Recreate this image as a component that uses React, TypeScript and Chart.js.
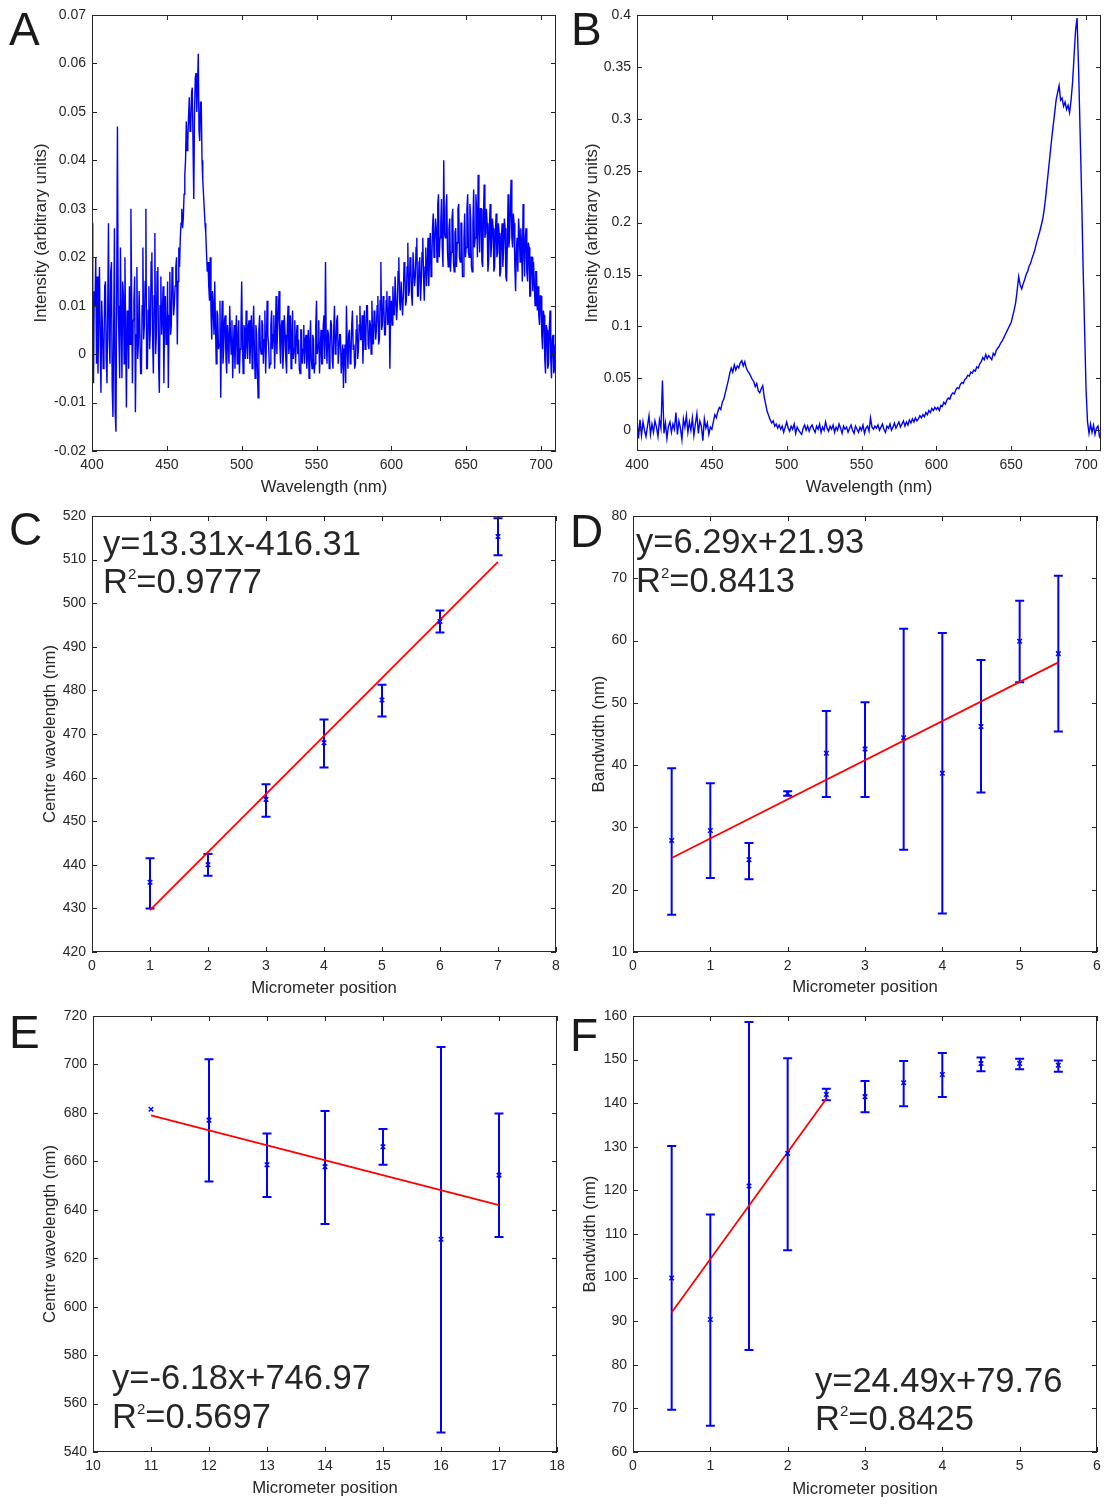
import React, { useEffect, useRef } from "react";
import { Chart, registerables } from "chart.js";

Chart.register(...registerables);

const FONT = '"Liberation Sans", Arial, Helvetica, sans-serif';
const INK = "#262626";
const BLUE = "#0000ff";
const RED = "#ff0000";

// ---------- Panel A: spectrum sampled every 0.5 nm from 400 nm ----------
const spectrumStartA = 400;
const spectrumStepA = 0.5;
const spectrumA = [
  0.027, 0.004, -0.006, 0.013, 0.01, 0.02, -0.002, 0.016, -0.004, 0.008,
  0.018, 0.002, -0.008, 0.011, 0.005, -0.003, 0.001, 0.014, 0.015, -0.001,
  -0.006, 0.009, 0.027, 0.003, -0.002, 0.017, 0.019, -0.007, -0.013, 0.006,
  0.026, -0.012, -0.016, 0.013, 0.047, 0.01, 0.003, -0.005, 0.022, 0.008,
  -0.005, 0.015, 0.012, -0.002, 0.02, 0.004, -0.011, 0.009, 0.008, -0.003,
  0.014, 0.002, 0.03, 0.011, -0.006, 0.007, 0.011, 0.016, -0.012, 0.004,
  0.018, -0.001, 0.002, 0.013, 0.013, -0.004, -0.004, 0.01, 0.022, 0.003,
  0.006, 0.015, 0.03, -0.003, -0.003, 0.009, 0.014, 0.001, 0.005, 0.019,
  0.021, 0.003, -0.004, 0.012, 0.025, 0.0, 0.004, 0.017, 0.018, -0.002,
  -0.008, 0.01, 0.016, 0.004, 0.008, 0.014, -0.006, 0.007, 0.012, 0.002,
  0.003, 0.015, -0.007, 0.008, 0.017, 0.004, 0.006, 0.018, 0.016, 0.008,
  0.01, 0.014, 0.018, 0.02, 0.002, 0.015, 0.022, 0.018, 0.024, 0.027,
  0.03, 0.026, 0.028, 0.033, 0.037, 0.04, 0.048, 0.042, 0.044, 0.049,
  0.053, 0.046, 0.047, 0.054, 0.055, 0.043, 0.032, 0.05, 0.057, 0.058,
  0.05, 0.055, 0.062, 0.046, 0.044, 0.052, 0.052, 0.04, 0.036, 0.033,
  0.03, 0.027, 0.025, 0.021, 0.017, 0.019, 0.014, 0.011, 0.02, 0.009,
  0.003, 0.013, 0.01, 0.004, 0.015, 0.006, -0.002, 0.009, 0.008, 0.001,
  0.002, 0.011, -0.009, 0.004, 0.011, -0.002, 0.001, 0.007, 0.008, -0.001,
  -0.004, 0.006, 0.003, -0.002, 0.01, 0.004, 0.0, 0.007, -0.005, 0.002,
  0.006, -0.003, 0.004, 0.008, -0.002, 0.003, 0.007, -0.004, 0.001, 0.005,
  0.015, 0.002, -0.004, 0.006, 0.005, -0.001, 0.009, 0.002, -0.001, 0.006,
  0.007, -0.002, 0.003, 0.008, -0.003, 0.004, 0.01, 0.001, -0.005, 0.006,
  0.004, -0.003, -0.009, 0.005, 0.008, 0.001, 0.0, 0.007, 0.006, -0.002,
  0.003, 0.009, -0.004, 0.002, 0.011, 0.004, 0.002, -0.003, -0.002, 0.006,
  0.009, 0.001, 0.004, 0.008, -0.003, 0.003, 0.012, 0.0, 0.005, 0.009,
  0.013, 0.002, -0.002, 0.006, 0.007, -0.003, 0.001, 0.008, 0.004, -0.001,
  -0.004, 0.006, 0.01, 0.0, 0.002, 0.008, -0.003, 0.004, 0.009, -0.001,
  0.001, 0.007, -0.002, 0.003, 0.006, 0.0, 0.003, -0.003, -0.004, 0.005,
  0.005, -0.002, 0.001, 0.006, -0.002, 0.003, 0.004, -0.003, 0.0, 0.005,
  -0.005, 0.002, 0.007, -0.001, -0.003, 0.004, 0.003, -0.004, -0.002, 0.006,
  0.011, 0.0, 0.002, 0.007, -0.004, 0.001, 0.005, -0.002, -0.002, 0.006,
  0.008, -0.001, 0.019, 0.003, -0.002, 0.005, 0.004, -0.003, 0.001, 0.007,
  0.006, -0.001, -0.003, 0.005, 0.01, 0.0, 0.001, 0.007, 0.008, -0.002,
  -0.002, 0.004, 0.004, -0.004, -0.004, 0.002, -0.007, 0.001, 0.002, -0.006,
  0.01, 0.002, -0.003, 0.004, 0.005, -0.002, -0.001, 0.006, 0.009, 0.001,
  0.002, -0.003, -0.002, 0.005, 0.008, -0.001, 0.001, 0.006, 0.01, 0.003,
  0.003, 0.008, -0.002, 0.004, 0.009, 0.001, 0.004, 0.01, 0.01, 0.002,
  0.001, 0.007, 0.006, 0.0, 0.011, 0.004, 0.002, 0.009, 0.008, 0.003,
  0.005, 0.01, 0.012, 0.002, 0.003, 0.011, 0.019, 0.005, 0.006, 0.012,
  0.01, 0.004, 0.004, 0.011, 0.013, 0.006, 0.007, 0.012, -0.003, 0.008,
  0.011, 0.006, 0.014, 0.009, 0.008, 0.016, 0.016, 0.007, 0.01, 0.017,
  0.02, 0.011, 0.009, 0.015, 0.015, 0.008, 0.012, 0.019, 0.018, 0.01,
  0.011, 0.018, 0.023, 0.012, 0.013, 0.02, 0.019, 0.012, 0.01, 0.021,
  0.021, 0.014, 0.016, 0.022, 0.024, 0.012, 0.012, 0.019, 0.02, 0.011,
  0.015, 0.021, 0.024, 0.016, 0.011, 0.018, 0.022, 0.014, 0.018, 0.024,
  0.014, 0.02, 0.025, 0.016, 0.019, 0.026, 0.029, 0.02, 0.023, 0.028,
  0.026, 0.019, 0.031, 0.033, 0.02, 0.024, 0.027, 0.032, 0.022, 0.018,
  0.04, 0.025, 0.024, 0.03, 0.033, 0.021, 0.018, 0.026, 0.028, 0.017,
  0.021, 0.028, 0.03, 0.019, 0.017, 0.025, 0.026, 0.018, 0.023, 0.03,
  0.031, 0.02, 0.019, 0.027, 0.027, 0.016, 0.016, 0.024, 0.029, 0.02,
  0.022, 0.03, 0.033, 0.021, 0.02, 0.031, 0.028, 0.018, 0.017, 0.027,
  0.034, 0.022, 0.024, 0.033, 0.029, 0.02, 0.037, 0.026, 0.021, 0.03,
  0.03, 0.019, 0.018, 0.028, 0.035, 0.024, 0.025, 0.03, 0.027, 0.017,
  0.019, 0.026, 0.031, 0.02, 0.023, 0.028, 0.026, 0.017, 0.018, 0.025,
  0.029, 0.02, 0.021, 0.027, 0.025, 0.016, 0.017, 0.024, 0.027, 0.018,
  0.022, 0.028, 0.026, 0.016, 0.015, 0.023, 0.033, 0.022, 0.024, 0.03,
  0.036, 0.024, 0.022, 0.029, 0.027, 0.018, 0.013, 0.021, 0.024, 0.017,
  0.028, 0.025, 0.019, 0.026, 0.022, 0.015, 0.031, 0.022, 0.016, 0.024,
  0.026, 0.017, 0.015, 0.023, 0.022, 0.012, 0.012, 0.02, 0.02, 0.013,
  0.019, 0.015, 0.01, 0.017, 0.017, 0.009, 0.014, 0.008, 0.006, 0.012,
  0.012, 0.004, 0.001, 0.009, 0.008, -0.001, -0.004, 0.006, 0.005, -0.003,
  -0.002, 0.005, 0.009, -0.001, -0.005, 0.003, 0.004, -0.004, -0.003, 0.002,
  -0.004,
];

// ---------- Panel B: spectrum sampled every 1 nm from 400 nm ----------
const spectrumStartB = 400;
const spectrumStepB = 1;
const spectrumB = [
  0.012, -0.008, 0.01, -0.005, 0.008, 0.0, -0.006, 0.004, 0.014, -0.004,
  0.006, -0.002, 0.009, 0.003, -0.006, 0.01, 0.002, 0.048, -0.003, 0.007,
  -0.008, 0.004, 0.008, -0.002, 0.006, 0.001, 0.017, -0.004, 0.009, 0.002,
  -0.009, 0.011, 0.003, 0.014, -0.002, 0.008, 0.0, 0.012, -0.005, 0.006,
  0.016, -0.003, 0.009, 0.004, -0.01, 0.011, 0.002, 0.007, -0.004, 0.003,
  0.001, 0.008, 0.015, 0.012, 0.018, 0.022, 0.02, 0.027, 0.03, 0.036,
  0.042, 0.048, 0.055, 0.06, 0.056, 0.063, 0.058, 0.062, 0.06, 0.065,
  0.067, 0.062, 0.066, 0.06, 0.057, 0.055, 0.052, 0.049, 0.047, 0.042,
  0.045, 0.038, 0.036, 0.04, 0.043, 0.032, 0.025, 0.018, 0.014, 0.01,
  0.007, 0.009, 0.004, 0.006, 0.002, 0.005, 0.001, 0.004, -0.002, 0.003,
  0.008, 0.002, -0.001, 0.004, 0.001, 0.006, -0.003, 0.003, 0.0, -0.002,
  -0.004, 0.002, 0.005, 0.0, 0.004, -0.001, 0.003, 0.005, 0.001, -0.002,
  0.004, 0.001, 0.006, -0.002, 0.003, 0.0, 0.008, 0.002, -0.001, 0.004,
  0.001, 0.005, -0.002, 0.003, 0.0, 0.006, 0.002, -0.003, 0.004, 0.001,
  0.003, -0.002, 0.002, 0.005, 0.0, -0.003, 0.004, 0.001, -0.002, 0.003,
  0.0, 0.005, -0.003, 0.002, 0.004, -0.001, 0.012, 0.003, 0.001, 0.004,
  0.002, 0.005, 0.0, 0.003, 0.006, 0.001, -0.002, 0.004, 0.002, 0.006,
  0.0, 0.003, 0.007, 0.002, 0.005, 0.008, 0.003, 0.006, 0.009, 0.004,
  0.008, 0.005, 0.01, 0.007, 0.011, 0.008, 0.012, 0.009, 0.011, 0.014,
  0.012, 0.015, 0.013, 0.017, 0.015, 0.019, 0.017, 0.021, 0.019, 0.022,
  0.02, 0.022, 0.019, 0.024, 0.023, 0.027, 0.025, 0.029, 0.031, 0.03,
  0.034, 0.036, 0.035, 0.039, 0.041, 0.04, 0.044, 0.046, 0.045, 0.049,
  0.05, 0.053, 0.052, 0.056, 0.055, 0.058, 0.057, 0.061, 0.06, 0.064,
  0.066, 0.07, 0.068, 0.073, 0.069, 0.072, 0.07, 0.068, 0.074, 0.072,
  0.077, 0.079, 0.081, 0.084, 0.086, 0.089, 0.092, 0.095, 0.098, 0.101,
  0.104, 0.11, 0.116, 0.123, 0.135, 0.148, 0.14, 0.136, 0.141, 0.145,
  0.15, 0.153, 0.158, 0.161, 0.166, 0.17, 0.175, 0.181, 0.186, 0.191,
  0.197, 0.203, 0.212, 0.224, 0.238, 0.252, 0.266, 0.28, 0.293, 0.305,
  0.318, 0.325, 0.332, 0.318, 0.32, 0.312, 0.316, 0.309, 0.313, 0.306,
  0.318, 0.335, 0.36, 0.385, 0.397, 0.35, 0.29, 0.23, 0.16, 0.1,
  0.04, 0.008, -0.003, 0.006, -0.002, 0.005, -0.004, 0.002, 0.004, -0.006, -0.009,
];
const wavelengthTicks = [400, 450, 500, 550, 600, 650, 700];
const intensityTicksA = [-0.02, -0.01, 0, 0.01, 0.02, 0.03, 0.04, 0.05, 0.06, 0.07];
const intensityTicksB = [0, 0.05, 0.1, 0.15, 0.2, 0.25, 0.3, 0.35, 0.4];

// ---------- Panel C ----------
const positionsC = [1, 2, 3, 4, 5, 6, 7];
const centreC = [436.0, 440.0, 455.0, 468.0, 477.8, 495.8, 515.3];
const lowerC = [430.0, 437.5, 451.0, 462.3, 474.0, 493.3, 511.0];
const upperC = [441.5, 442.5, 458.5, 473.3, 481.3, 498.3, 519.5];
const fitXC = [1, 7];
const fitYC = [429.6, 509.5];
const ticksXC = [0, 1, 2, 3, 4, 5, 6, 7, 8];
const ticksYC = [420, 430, 440, 450, 460, 470, 480, 490, 500, 510, 520];

// ---------- Panel D ----------
const positionsD = [0.5, 1, 1.5, 2, 2.5, 3, 3.5, 4, 4.5, 5, 5.5];
const bandwidthD = [27.9, 29.5, 24.8, 35.5, 41.9, 42.6, 44.4, 38.7, 46.2, 59.9, 57.9];
const lowerD = [16.0, 21.9, 21.7, 35.1, 34.9, 34.9, 26.4, 16.2, 35.6, 53.3, 45.4];
const upperD = [39.5, 37.1, 27.5, 35.8, 48.7, 50.1, 61.9, 61.2, 56.9, 66.4, 70.4];
const fitXD = [0.5, 5.5];
const fitYD = [25.1, 56.5];
const ticksXD = [0, 1, 2, 3, 4, 5, 6];
const ticksYD = [10, 20, 30, 40, 50, 60, 70, 80];

// ---------- Panel E ----------
const positionsE = [11, 12, 13, 14, 15, 16, 17];
const centreE = [681.5, 677.0, 658.6, 657.8, 666.0, 627.8, 654.3];
const lowerE = [681.5, 651.7, 645.3, 634.1, 658.6, 548.1, 628.8];
const upperE = [681.5, 702.1, 671.5, 680.8, 673.3, 707.2, 679.7];
const fitXE = [11, 17];
const fitYE = [679.0, 641.9];
const ticksXE = [10, 11, 12, 13, 14, 15, 16, 17, 18];
const ticksYE = [540, 560, 580, 600, 620, 640, 660, 680, 700, 720];

// ---------- Panel F ----------
const positionsF = [0.5, 1, 1.5, 2, 2.5, 3, 3.5, 4, 4.5, 5, 5.5];
const bandwidthF = [99.9, 90.4, 121.0, 128.5, 142.0, 141.5, 144.7, 146.6, 149.1, 149.1, 148.7];
const lowerF = [69.7, 66.0, 83.4, 106.3, 140.7, 137.9, 139.3, 141.4, 147.3, 147.8, 147.2];
const upperF = [130.2, 114.5, 158.6, 150.3, 143.3, 145.1, 149.7, 151.5, 150.5, 150.2, 149.8];
const fitXF = [0.5, 2.5];
const fitYF = [92.0, 141.0];
const ticksXF = [0, 1, 2, 3, 4, 5, 6];
const ticksYF = [60, 70, 80, 90, 100, 110, 120, 130, 140, 150, 160];

type Box = { x: number; y: number; w: number; h: number };
type Area = { left: number; top: number; right: number; bottom: number };
type PanelSpec = {
  letter: string;
  letterPos: [number, number];
  box: Box;
  area: Area;
  xMin: number; xMax: number; yMin: number; yMax: number;
  xTicks: number[]; yTicks: number[];
  xTitle: string; yTitle: string;
  yTitleOffset: number; xTitleOffset: number;
  spectrum?: number[]; specStart?: number; specStep?: number;
  xs?: number[]; ys?: number[]; lo?: number[]; hi?: number[];
  fitX?: number[]; fitY?: number[];
  eq?: string; r2?: string; notePos?: [number, number, number];
};

const panels: PanelSpec[] = [
  {
    letter: "A", letterPos: [9, 45],
    box: { x: 0, y: 0, w: 560, h: 500 }, area: { left: 92, top: 15, right: 556, bottom: 451 },
    xMin: 400, xMax: 710, yMin: -0.02, yMax: 0.07, xTicks: wavelengthTicks, yTicks: intensityTicksA,
    xTitle: "Wavelength (nm)", yTitle: "Intensity (arbitrary units)", yTitleOffset: 41, xTitleOffset: 13,
    spectrum: spectrumA, specStart: spectrumStartA, specStep: spectrumStepA,
  },
  {
    letter: "B", letterPos: [571, 45],
    box: { x: 560, y: 0, w: 548, h: 500 }, area: { left: 637, top: 15, right: 1101, bottom: 451 },
    xMin: 400, xMax: 710, yMin: -0.02, yMax: 0.4, xTicks: wavelengthTicks, yTicks: intensityTicksB,
    xTitle: "Wavelength (nm)", yTitle: "Intensity (arbitrary units)", yTitleOffset: 32, xTitleOffset: 13,
    spectrum: spectrumB, specStart: spectrumStartB, specStep: spectrumStepB,
  },
  {
    letter: "C", letterPos: [9, 545],
    box: { x: 0, y: 500, w: 575, h: 500 }, area: { left: 92, top: 516, right: 556, bottom: 952 },
    xMin: 0, xMax: 8, yMin: 420, yMax: 520, xTicks: ticksXC, yTicks: ticksYC,
    xTitle: "Micrometer position", yTitle: "Centre wavelength (nm)", yTitleOffset: 50, xTitleOffset: 11.5,
    xs: positionsC, ys: centreC, lo: lowerC, hi: upperC, fitX: fitXC, fitY: fitYC,
    eq: "y=13.31x-416.31", r2: "0.9777", notePos: [103, 555, 593],
  },
  {
    letter: "D", letterPos: [570, 547],
    box: { x: 560, y: 500, w: 548, h: 500 }, area: { left: 633, top: 516, right: 1097, bottom: 952 },
    xMin: 0, xMax: 6, yMin: 10, yMax: 80, xTicks: ticksXD, yTicks: ticksYD,
    xTitle: "Micrometer position", yTitle: "Bandwidth (nm)", yTitleOffset: 39, xTitleOffset: 13,
    xs: positionsD, ys: bandwidthD, lo: lowerD, hi: upperD, fitX: fitXD, fitY: fitYD,
    eq: "y=6.29x+21.93", r2: "0.8413", notePos: [636, 553, 592],
  },
  {
    letter: "E", letterPos: [9, 1048],
    box: { x: 0, y: 1000, w: 580, h: 497 }, area: { left: 93, top: 1016, right: 557, bottom: 1452 },
    xMin: 10, xMax: 18, yMin: 540, yMax: 720, xTicks: ticksXE, yTicks: ticksYE,
    xTitle: "Micrometer position", yTitle: "Centre wavelength (nm)", yTitleOffset: 50, xTitleOffset: 9,
    xs: positionsE, ys: centreE, lo: lowerE, hi: upperE, fitX: fitXE, fitY: fitYE,
    eq: "y=-6.18x+746.97", r2: "0.5697", notePos: [112, 1389, 1428],
  },
  {
    letter: "F", letterPos: [570, 1051],
    box: { x: 560, y: 1000, w: 548, h: 497 }, area: { left: 633, top: 1016, right: 1097, bottom: 1452 },
    xMin: 0, xMax: 6, yMin: 60, yMax: 160, xTicks: ticksXF, yTicks: ticksYF,
    xTitle: "Micrometer position", yTitle: "Bandwidth (nm)", yTitleOffset: 30, xTitleOffset: 8,
    xs: positionsF, ys: bandwidthF, lo: lowerF, hi: upperF, fitX: fitXF, fitY: fitYF,
    eq: "y=24.49x+79.76", r2: "0.8425", notePos: [815, 1392, 1430],
  },
];

const TICK_FONT = 14;
const TITLE_FONT = 16.7;
const NOTE_FONT = 34.5;

function fmt(v: number) {
  return String(Number(Number(v).toFixed(4)));
}

function decorPlugin(p: PanelSpec) {
  return {
    id: "decor" + p.letter,
    beforeDatasetsDraw(chart: any) {
      if (!p.lo || !p.hi || !p.xs) return;
      const { ctx, chartArea: a } = chart;
      const xs = chart.scales.x;
      const ys = chart.scales.y;
      ctx.save();
      ctx.beginPath();
      ctx.rect(a.left, a.top - 2, a.right - a.left, a.bottom - a.top + 4);
      ctx.clip();
      ctx.strokeStyle = BLUE;
      ctx.lineWidth = 2;
      p.xs.forEach((xv, i) => {
        const px = xs.getPixelForValue(xv);
        const yl = ys.getPixelForValue(p.lo![i]);
        const yh = ys.getPixelForValue(p.hi![i]);
        if (Math.abs(yl - yh) < 1) return;
        ctx.beginPath();
        ctx.moveTo(px, yl);
        ctx.lineTo(px, yh);
        ctx.moveTo(px - 4.5, yl);
        ctx.lineTo(px + 4.5, yl);
        ctx.moveTo(px - 4.5, yh);
        ctx.lineTo(px + 4.5, yh);
        ctx.stroke();
      });
      ctx.restore();
    },
    afterDraw(chart: any) {
      const { ctx, chartArea: a } = chart;
      const xs = chart.scales.x;
      const ys = chart.scales.y;
      ctx.save();
      ctx.strokeStyle = INK;
      ctx.lineWidth = 1;
      ctx.strokeRect(a.left + 0.5, a.top + 0.5, a.right - a.left - 1, a.bottom - a.top - 1);
      const tl = 5;
      ctx.beginPath();
      p.xTicks.forEach((v) => {
        const px = Math.round(xs.getPixelForValue(v)) + 0.5;
        ctx.moveTo(px, a.bottom);
        ctx.lineTo(px, a.bottom - tl);
        ctx.moveTo(px, a.top);
        ctx.lineTo(px, a.top + tl);
      });
      p.yTicks.forEach((v) => {
        const py = Math.round(ys.getPixelForValue(v)) + 0.5;
        ctx.moveTo(a.left, py);
        ctx.lineTo(a.left + tl, py);
        ctx.moveTo(a.right, py);
        ctx.lineTo(a.right - tl, py);
      });
      ctx.stroke();

      ctx.fillStyle = "#1a1a1a";
      ctx.textAlign = "left";
      ctx.textBaseline = "alphabetic";
      ctx.font = `46px ${FONT}`;
      ctx.fillText(p.letter, p.letterPos[0] - p.box.x, p.letterPos[1] - p.box.y);

      if (p.eq && p.r2 && p.notePos) {
        const nx = p.notePos[0] - p.box.x;
        const y1 = p.notePos[1] - p.box.y;
        const y2 = p.notePos[2] - p.box.y;
        ctx.fillStyle = INK;
        ctx.font = `${NOTE_FONT}px ${FONT}`;
        ctx.fillText(p.eq, nx, y1);
        ctx.fillText("R", nx, y2);
        const rw = ctx.measureText("R").width;
        ctx.font = `15px ${FONT}`;
        ctx.fillText("2", nx + rw, y2 - 14);
        const sw = ctx.measureText("2").width;
        ctx.font = `${NOTE_FONT}px ${FONT}`;
        ctx.fillText("=" + p.r2, nx + rw + sw, y2);
      }
      ctx.restore();
    },
  };
}

function buildConfig(p: PanelSpec): any {
  const yAxisWidth = p.area.left - p.box.x;
  const xAxisHeight = p.box.y + p.box.h - p.area.bottom;
  const padTop = p.area.top - p.box.y;
  const padRight = p.box.x + p.box.w - p.area.right;
  const datasets: any[] = [];
  if (p.spectrum) {
    const start = p.specStart!;
    const step = p.specStep!;
    datasets.push({
      data: p.spectrum.map((v, i) => ({ x: start + i * step, y: v })),
      borderColor: BLUE,
      backgroundColor: BLUE,
      borderWidth: 1.4,
      pointRadius: 0,
      showLine: true,
      tension: 0,
    });
  } else {
    datasets.push({
      data: p.xs!.map((x, i) => ({ x, y: p.ys![i] })),
      pointStyle: "crossRot",
      pointRadius: 3.2,
      borderColor: BLUE,
      backgroundColor: BLUE,
      borderWidth: 1.5,
      showLine: false,
    });
    datasets.push({
      data: p.fitX!.map((x, i) => ({ x, y: p.fitY![i] })),
      borderColor: RED,
      backgroundColor: RED,
      borderWidth: 1.8,
      pointRadius: 0,
      showLine: true,
    });
  }
  const tickFont = { family: FONT, size: TICK_FONT };
  const titleFont = { family: FONT, size: TITLE_FONT };
  const lh = TITLE_FONT * 1.2;
  return {
    type: "scatter",
    data: { datasets },
    options: {
      animation: false,
      responsive: false,
      devicePixelRatio: 1,
      layout: { padding: { left: 0, top: padTop, right: padRight, bottom: 0 } },
      plugins: { legend: { display: false }, tooltip: { enabled: false } },
      scales: {
        x: {
          type: "linear",
          position: "bottom",
          min: p.xMin,
          max: p.xMax,
          afterBuildTicks: (s: any) => {
            s.ticks = p.xTicks.map((v) => ({ value: v }));
          },
          afterFit: (s: any) => {
            s.height = xAxisHeight;
            s.paddingLeft = 0;
            s.paddingRight = 0;
          },
          grid: { display: false, drawTicks: false },
          border: { display: false },
          ticks: {
            padding: 6,
            font: tickFont,
            color: INK,
            autoSkip: false,
            maxRotation: 0,
            callback: (v: any) => fmt(v),
          },
          title: {
            display: true,
            text: p.xTitle,
            font: titleFont,
            color: INK,
            padding: { top: 0, bottom: p.xTitleOffset - lh / 2 },
          },
        },
        y: {
          type: "linear",
          position: "left",
          min: p.yMin,
          max: p.yMax,
          afterBuildTicks: (s: any) => {
            s.ticks = p.yTicks.map((v) => ({ value: v }));
          },
          afterFit: (s: any) => {
            s.width = yAxisWidth;
            s.paddingTop = 0;
            s.paddingBottom = 0;
          },
          grid: { display: false, drawTicks: false },
          border: { display: false },
          ticks: {
            padding: 6,
            font: tickFont,
            color: INK,
            autoSkip: false,
            callback: (v: any) => fmt(v),
          },
          title: {
            display: true,
            text: p.yTitle,
            font: titleFont,
            color: INK,
            padding: { top: p.yTitleOffset - lh / 2, bottom: 0 },
          },
        },
      },
    },
    plugins: [decorPlugin(p)],
  };
}

function Panel({ p }: { p: PanelSpec }) {
  const ref = useRef<HTMLCanvasElement>(null);
  useEffect(() => {
    if (!ref.current) return;
    const chart = new Chart(ref.current, buildConfig(p));
    return () => chart.destroy();
  }, [p]);
  return (
    <canvas
      ref={ref}
      width={p.box.w}
      height={p.box.h}
      style={{ position: "absolute", left: p.box.x, top: p.box.y, width: p.box.w, height: p.box.h }}
    />
  );
}

export default function App() {
  return (
    <div style={{ position: "absolute", left: 0, top: 0, width: 1108, height: 1497, background: "#ffffff" }}>
      {panels.map((p) => (
        <Panel key={p.letter} p={p} />
      ))}
    </div>
  );
}
